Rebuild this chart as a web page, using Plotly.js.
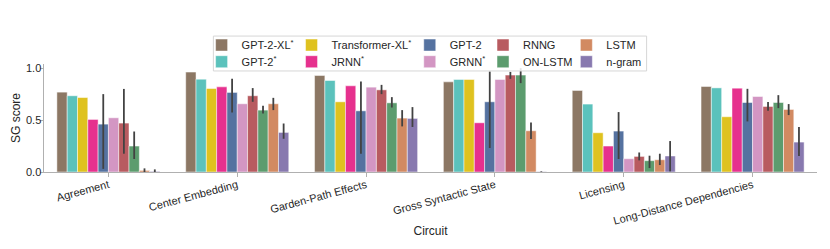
<!DOCTYPE html>
<html>
<head>
<meta charset="utf-8">
<script src="https://cdn.plot.ly/plotly-3.0.1.min.js"></script>
<style>html,body{margin:0;padding:0;background:#fff;}#chart{width:830px;height:249px;}</style>
</head>
<body>
<div id="chart"></div>
<script>
// Categories (circuits)
const categories = ["Agreement", "Center Embedding", "Garden-Path Effects", "Gross Syntactic State", "Licensing", "Long-Distance Dependencies"];

// Model names (legend labels)
const models = ["GPT-2-XL<sup>*</sup>", "GPT-2<sup>*</sup>", "Transformer-XL<sup>*</sup>", "JRNN<sup>*</sup>", "GPT-2", "GRNN<sup>*</sup>", "RNNG", "ON-LSTM", "LSTM", "n-gram"];

// SG score per model (one value per circuit)
const gpt2xlStar  = [0.769, 0.962, 0.929, 0.868, 0.785, 0.823];
const gpt2Star    = [0.734, 0.894, 0.881, 0.891, 0.654, 0.810];
const txlStar     = [0.717, 0.804, 0.676, 0.891, 0.378, 0.532];
const jrnnStar    = [0.506, 0.820, 0.830, 0.474, 0.250, 0.807];
const gpt2        = [0.461, 0.766, 0.589, 0.676, 0.394, 0.669];
const grnnStar    = [0.522, 0.657, 0.817, 0.891, 0.128, 0.727];
const rnng        = [0.471, 0.734, 0.791, 0.933, 0.150, 0.631];
const onlstm      = [0.250, 0.596, 0.666, 0.933, 0.109, 0.669];
const lstm        = [0.015, 0.657, 0.519, 0.397, 0.118, 0.602];
const ngram       = [0.006, 0.381, 0.516, 0.003, 0.154, 0.288];

// Confidence interval bounds (upper / lower) for models with several seeds
const gpt2Upper   = [0.750, 0.897, 0.871, 0.968, 0.577, 0.801];
const gpt2Lower   = [0.030, 0.573, 0.176, 0.231, 0.125, 0.487];
const rnngUpper   = [0.800, 0.808, 0.839, 0.964, 0.188, 0.673];
const rnngLower   = [0.176, 0.676, 0.750, 0.897, 0.112, 0.589];
const onlstmUpper = [0.390, 0.638, 0.721, 1.000, 0.157, 0.740];
const onlstmLower = [0.125, 0.564, 0.621, 0.856, 0.038, 0.615];
const lstmUpper   = [0.035, 0.714, 0.596, 0.477, 0.176, 0.654];
const lstmLower   = [0.000, 0.596, 0.439, 0.317, 0.067, 0.548];
const ngramUpper  = [0.025, 0.467, 0.625, 0.006, 0.298, 0.433];
const ngramLower  = [0.000, 0.320, 0.433, 0.000, 0.006, 0.154];

const seriesValues = [gpt2xlStar, gpt2Star, txlStar, jrnnStar, gpt2, grnnStar, rnng, onlstm, lstm, ngram];
const seriesUpper  = [null, null, null, null, gpt2Upper, null, rnngUpper, onlstmUpper, lstmUpper, ngramUpper];
const seriesLower  = [null, null, null, null, gpt2Lower, null, rnngLower, onlstmLower, lstmLower, ngramLower];

const colors = ["#8c7764", "#5bc2bc", "#dfc21f", "#e6318e", "#5572a0", "#d396c3", "#b85b60", "#5c9c6e", "#d28a62", "#8879af"];

// Legend layout: 5 columns x 2 rows, column-major
const W = 830, H = 249;
const mL = 44, mR = 12.5, mT = 64, mB = 76.7;
const pw = W - mL - mR, ph = H - mT - mB;
const px = x => (x - mL) / pw;
const py = y => (H - mB - y) / ph;
const colTextX = [241.7, 331.7, 450, 523.3, 606.7];
const rowY = [45, 61.7];

const traces = [];
const legends = {};
seriesValues.forEach((vals, i) => {
  const col = Math.floor(i / 2), row = i % 2;
  const legKey = i === 0 ? "legend" : "legend" + (i + 1);
  const t = {
    type: "bar",
    name: models[i],
    x: categories,
    y: vals,
    marker: {color: colors[i], line: {color: "rgba(255,255,255,0.6)", width: 0.8}},
    legend: legKey,
    hoverinfo: "skip"
  };
  if (seriesUpper[i]) {
    t.error_y = {
      type: "data", symmetric: false,
      array: vals.map((v, k) => seriesUpper[i][k] - v),
      arrayminus: vals.map((v, k) => v - seriesLower[i][k]),
      color: "#424242", thickness: 1.8, width: 0
    };
  }
  traces.push(t);
  legends[legKey] = {
    x: px(colTextX[col] - 40), xanchor: "left",
    y: py(rowY[row]), yanchor: "middle",
    bgcolor: "rgba(0,0,0,0)", borderwidth: 0,
    font: {family: "Liberation Sans, Arial, sans-serif", size: 11, color: "#262626"},
    itemclick: false, itemdoubleclick: false
  };
});

const axisColor = "#b0b0b0";
const layout = Object.assign({
  width: W, height: H,
  margin: {l: mL, r: mR, t: mT, b: mB, pad: 0},
  paper_bgcolor: "#ffffff", plot_bgcolor: "#ffffff",
  font: {family: "Liberation Sans, Arial, sans-serif", size: 11, color: "#262626"},
  barmode: "group", bargap: 0.2, bargroupgap: 0,
  showlegend: true,
  xaxis: {
    range: [-0.5, 5.5], showgrid: false, zeroline: false,
    showline: true, linecolor: axisColor, linewidth: 1,
    ticks: "outside", ticklen: 3.5, tickcolor: axisColor, tickwidth: 1,
    tickangle: -15, ticklabelstandoff: -2, tickfont: {size: 11, color: "#262626"},
    title: {text: "Circuit", font: {size: 12, color: "#262626"}, standoff: 0}
  },
  yaxis: {
    range: [0, 1.04], showgrid: false, zeroline: false,
    showline: true, linecolor: axisColor, linewidth: 1,
    ticks: "outside", ticklen: 3.5, tickcolor: axisColor, tickwidth: 1,
    tickvals: [0, 0.5, 1.0], tickformat: ".1f", ticklabelstandoff: -4,
    tickfont: {size: 11, color: "#262626"},
    title: {text: "SG score", font: {size: 12, color: "#262626"}, standoff: 2}
  },
  shapes: [{
    type: "rect", xref: "paper", yref: "paper", layer: "above",
    x0: px(213.5), x1: px(647), y0: py(71), y1: py(36),
    fillcolor: "rgba(255,255,255,0.85)", line: {color: "#d6d6d6", width: 1}
  }]
}, legends);

Plotly.newPlot("chart", traces, layout, {staticPlot: true, displayModeBar: false});
</script>
</body>
</html>
